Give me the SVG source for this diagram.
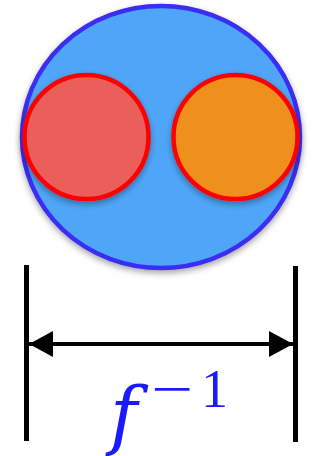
<svg xmlns="http://www.w3.org/2000/svg" width="322" height="456" viewBox="0 0 322 456">
<defs>
<filter id="sh" x="-20%" y="-20%" width="140%" height="140%">
<feDropShadow dx="0" dy="3" stdDeviation="3" flood-color="#000" flood-opacity="0.35"/>
</filter>
<marker id="ah" viewBox="0 0 24 26" refX="24" refY="13" markerWidth="24" markerHeight="26" markerUnits="userSpaceOnUse" orient="auto-start-reverse">
<path d="M0,0 L24,13 L0,26 Z" fill="#000"/>
</marker>
<style>
.bar{stroke:#000;stroke-width:5}
.small{stroke:#ff0000;stroke-width:4.5}
.lbl{fill:#1a1aff;font-family:"DejaVu Serif",serif}
.sup{fill:#1a1aff;font-family:"Liberation Serif",serif;font-size:54px}
</style>
</defs>
<g id="outer">
<ellipse cx="161" cy="137" rx="139" ry="131" fill="#4fa6f8" stroke="#3a2df2" stroke-width="4.5" filter="url(#sh)"/>
</g>
<g id="red">
<circle cx="86.5" cy="137" r="62" fill="#ea5e5a" class="small" filter="url(#sh)"/>
</g>
<g id="orange">
<circle cx="235.5" cy="137" r="62" fill="#f0901d" class="small" filter="url(#sh)"/>
</g>
<g id="connectors">
<line x1="26.5" y1="265" x2="26.5" y2="441" class="bar"/>
<line x1="295.5" y1="266" x2="295.5" y2="442" class="bar"/>
<line x1="29" y1="344" x2="293" y2="344" stroke="#000" stroke-width="4" marker-start="url(#ah)" marker-end="url(#ah)"/>
</g>
<g id="label">
<text x="110" y="440" class="lbl" font-size="74" font-style="italic">f</text>
<text x="151" y="407" class="sup"><tspan textLength="42" lengthAdjust="spacingAndGlyphs">−</tspan><tspan x="201">1</tspan></text>
</g>
</svg>
